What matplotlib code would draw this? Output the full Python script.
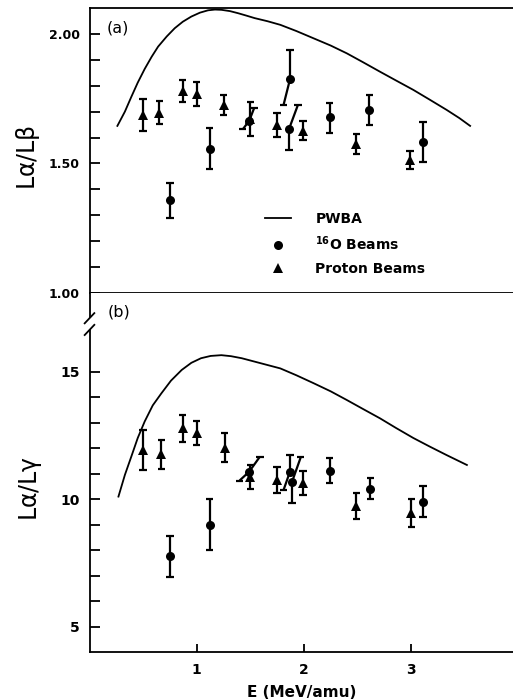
import matplotlib
matplotlib.use("Agg")
import matplotlib.pyplot as plt
from matplotlib.collections import LineCollection
from matplotlib.lines import Line2D

# ---------------- data ----------------
# (a) L_alpha / L_beta
pwba_e_a = [0.26, 0.33, 0.39, 0.45, 0.515, 0.58, 0.64, 0.72, 0.795, 0.87,
            0.95, 1.03, 1.105, 1.17, 1.23, 1.31, 1.385, 1.46, 1.54, 1.66,
            1.78, 1.93, 2.09, 2.25, 2.40, 2.55, 2.71, 2.86, 3.02, 3.17,
            3.33, 3.45, 3.55]
pwba_a = [1.645, 1.700, 1.757, 1.812, 1.865, 1.912, 1.951, 1.990, 2.022, 2.047,
          2.067, 2.082, 2.091, 2.094, 2.093, 2.088, 2.080, 2.071, 2.061, 2.049,
          2.035, 2.011, 1.983, 1.955, 1.925, 1.891, 1.854, 1.820, 1.784, 1.747,
          1.707, 1.675, 1.645]

prot_e_a = [0.50, 0.65, 0.87, 1.00, 1.25, 1.50, 1.75, 1.99, 2.49, 2.99]
prot_a = [1.687, 1.696, 1.781, 1.767, 1.726, 1.672, 1.649, 1.627, 1.575, 1.514]
prot_err_a = [0.062, 0.045, 0.043, 0.046, 0.038, 0.067, 0.046, 0.036, 0.040, 0.035]

oxy_e_a = [0.75, 1.12, 1.49, 1.87, 1.86, 2.24, 2.61, 3.11]
oxy_a = [1.359, 1.555, 1.665, 1.825, 1.632, 1.678, 1.707, 1.584]
oxy_lo_a = [0.070, 0.078, 0.033, 0.099, 0.080, 0.060, 0.060, 0.079]
oxy_hi_a = [0.066, 0.081, 0.048, 0.111, 0.094, 0.057, 0.057, 0.077]
oxy_dxlo_a = [0, 0, -0.06, -0.06, 0, 0, 0, 0]
oxy_dxhi_a = [0, 0, 0.045, 0, 0.084, 0, 0, 0]

# (b) L_alpha / L_gamma
pwba_e_b = [0.27, 0.33, 0.39, 0.45, 0.515, 0.59, 0.67, 0.76, 0.86, 0.95,
            1.04, 1.13, 1.23, 1.32, 1.42, 1.51, 1.60, 1.69, 1.78, 1.93,
            2.09, 2.25, 2.40, 2.55, 2.71, 2.86, 3.02, 3.17, 3.33, 3.52]
pwba_b = [10.10, 10.95, 11.67, 12.40, 13.05, 13.68, 14.15, 14.65, 15.07, 15.35,
          15.53, 15.62, 15.65, 15.61, 15.53, 15.43, 15.33, 15.23, 15.13, 14.86,
          14.55, 14.23, 13.89, 13.54, 13.17, 12.79, 12.40, 12.07, 11.73, 11.34]

prot_e_b = [0.50, 0.67, 0.87, 1.00, 1.26, 1.50, 1.75, 1.99, 2.49, 3.00]
prot_b = [11.93, 11.76, 12.78, 12.61, 12.02, 10.88, 10.75, 10.62, 9.73, 9.45]
prot_err_b = [0.80, 0.57, 0.52, 0.47, 0.58, 0.47, 0.52, 0.47, 0.52, 0.54]

oxy_e_b = [0.75, 1.12, 1.49, 1.87, 1.89, 2.24, 2.62, 3.11]
oxy_b = [7.75, 8.99, 11.08, 11.08, 10.69, 11.12, 10.40, 9.90]
oxy_lo_b = [0.82, 1.00, 0.35, 0.72, 0.85, 0.48, 0.40, 0.62]
oxy_hi_b = [0.82, 1.02, 0.59, 0.65, 0.95, 0.50, 0.42, 0.60]
oxy_dxlo_b = [0, 0, -0.09, -0.06, 0, 0, 0, 0]
oxy_dxhi_b = [0, 0, 0.10, 0, 0.08, 0, 0, 0]

# ---------------- styling ----------------
FONT = "DejaVu Sans"
plt.rcParams["font.family"] = [FONT]
BAR_LW = 1.6
CAP = 0.034          # half-width of error-bar caps, in MeV/amu
XMAX = 3.95

fig = plt.figure(figsize=(5.13, 7.0), dpi=100)
axa = fig.add_axes([89.5 / 513, 407 / 700, 423.5 / 513, 285 / 700])
axb = fig.add_axes([89.5 / 513, 48 / 700, 423.5 / 513, 359 / 700])


def bars(ax, e, v, lo, hi, dxlo=None, dxhi=None):
    """Error bars drawn as two arms from the point, each with a flat cap;
    an arm may lean sideways when neighbouring points crowd each other."""
    n = len(e)
    dxlo = dxlo or [0] * n
    dxhi = dxhi or [0] * n
    segs = []
    for x, y, l, h, a, b in zip(e, v, lo, hi, dxlo, dxhi):
        xb, yb = x + a, y - l
        xt, yt = x + b, y + h
        segs.append([(x, y), (xb, yb)])
        segs.append([(x, y), (xt, yt)])
        segs.append([(xb - CAP, yb), (xb + CAP, yb)])
        segs.append([(xt - CAP, yt), (xt + CAP, yt)])
    ax.add_collection(LineCollection(segs, colors="black", linewidths=BAR_LW,
                                     capstyle="butt", zorder=3))


def panel(ax, pe, pv, te, tv, terr, oe, ov, olo, ohi, odxl, odxh):
    ax.plot(pe, pv, color="black", lw=1.3, zorder=2,
            solid_joinstyle="round")
    bars(ax, te, tv, terr, terr)
    ax.plot(te, tv, "^", color="black", ms=7.3, mew=0, zorder=4)
    bars(ax, oe, ov, olo, ohi, odxl, odxh)
    ax.plot(oe, ov, "o", color="black", ms=6.5, mew=0, zorder=4)
    ax.set_xlim(0, XMAX)
    for s in ax.spines.values():
        s.set_linewidth(1.3)
    ax.spines["right"].set_visible(False)
    ax.tick_params(axis="both", which="both", direction="in", length=7,
                   width=1.3, labelsize=9.5, pad=7)
    for lab in ax.get_yticklabels() + ax.get_xticklabels():
        lab.set_fontweight("bold")


# ---- panel (a) ----
panel(axa, pwba_e_a, pwba_a, prot_e_a, prot_a, prot_err_a,
      oxy_e_a, oxy_a, oxy_lo_a, oxy_hi_a, oxy_dxlo_a, oxy_dxhi_a)
axa.set_ylim(1.0, 2.10)
axa.set_yticks([1.0, 1.5, 2.0])
axa.set_yticklabels(["1.00", "1.50", "2.00"], fontweight="bold", fontsize=9)
axa.set_yticks([1.1, 1.2, 1.3, 1.4, 1.6, 1.7, 1.8, 1.9], minor=True)
axa.set_xticks([])
axa.text(0.04, 0.93, "(a)", transform=axa.transAxes, fontsize=11.5,
         va="center", ha="left")

legend_handles = [
    Line2D([], [], color="black", lw=1.3),
    Line2D([], [], color="black", marker="o", ls="none", ms=6.5, mew=0),
    Line2D([], [], color="black", marker="^", ls="none", ms=7.3, mew=0),
]
legend_labels = ["PWBA", r"$^{\mathbf{16}}$O Beams", "Proton Beams"]
axa.legend(legend_handles, legend_labels, loc="upper left",
           bbox_to_anchor=(0.397, 0.31), frameon=False, handlelength=1.9,
           handletextpad=1.75, labelspacing=0.65, borderpad=0,
           prop={"family": FONT, "weight": "bold", "size": 10})

# ---- panel (b) ----
panel(axb, pwba_e_b, pwba_b, prot_e_b, prot_b, prot_err_b,
      oxy_e_b, oxy_b, oxy_lo_b, oxy_hi_b, oxy_dxlo_b, oxy_dxhi_b)
YB_TOP = 18.09
axb.set_ylim(4.0, YB_TOP)
axb.spines["top"].set_visible(False)
axb.set_yticks([5, 10, 15])
axb.set_yticklabels(["5", "10", "15"], fontweight="bold", fontsize=10)
axb.set_yticks([6, 7, 8, 9, 11, 12, 13, 14], minor=True)
axb.set_xticks([1, 2, 3])
axb.set_xticklabels(["1", "2", "3"], fontweight="bold", fontsize=10)
axb.tick_params(axis="x", length=6, pad=8)
axb.set_xlabel("E (MeV/amu)", fontsize=11, fontweight="bold", labelpad=6)

# broken left axis between the two panels
BRK_LO, BRK_HI = 16.64, 17.10
axb.spines["left"].set_bounds(4.0, BRK_LO)
axb.plot([0, 0], [BRK_HI, YB_TOP], color="black", lw=1.3, clip_on=False,
         solid_capstyle="butt")
for yb in (BRK_LO, BRK_HI):
    axb.plot([-0.045, 0.045], [yb - 0.2, yb + 0.2], color="black", lw=1.3,
             clip_on=False)
axb.text(0.043, 0.948, "(b)", transform=axb.transAxes, fontsize=11.5,
         va="center", ha="left")

# axis titles
fig.text(28 / 513, 1 - 157 / 700, r"$\mathregular{L\alpha/L\beta}$",
         rotation=90, fontsize=17, ha="center", va="center")
fig.text(31 / 513, 1 - 488 / 700, r"$\mathregular{L\alpha/L\gamma}$",
         rotation=90, fontsize=17, ha="center", va="center")

fig.savefig("out.png", dpi=100)
